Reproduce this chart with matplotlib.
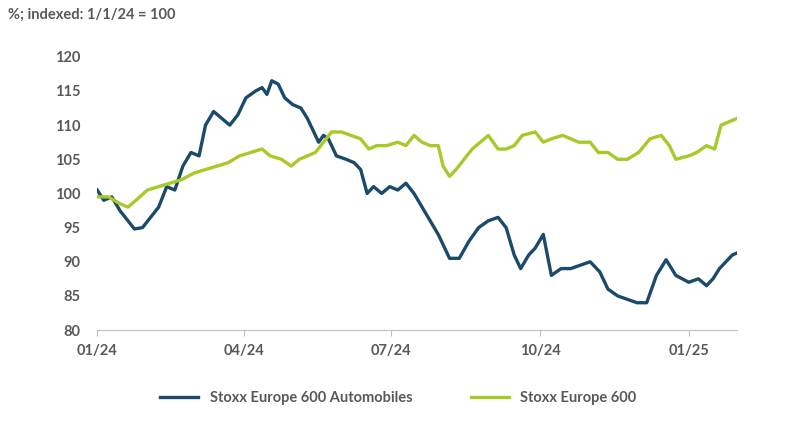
import matplotlib
matplotlib.use("Agg")
import matplotlib.pyplot as plt
import matplotlib.dates as mdates
import pandas as pd

auto_dates = ["2024-01-01","2024-01-05","2024-01-10","2024-01-15","2024-01-20","2024-01-24","2024-01-29","2024-02-03","2024-02-08","2024-02-13","2024-02-18","2024-02-23","2024-02-28","2024-03-04","2024-03-08","2024-03-13","2024-03-18","2024-03-23","2024-03-28","2024-04-02","2024-04-08","2024-04-12","2024-04-15","2024-04-18","2024-04-22","2024-04-26","2024-05-01","2024-05-06","2024-05-10","2024-05-14","2024-05-17","2024-05-20","2024-05-23","2024-05-28","2024-06-03","2024-06-08","2024-06-12","2024-06-16","2024-06-20","2024-06-25","2024-06-30","2024-07-05","2024-07-10","2024-07-15","2024-07-20","2024-07-25","2024-07-30","2024-08-03","2024-08-06","2024-08-12","2024-08-18","2024-08-24","2024-08-30","2024-09-05","2024-09-10","2024-09-15","2024-09-19","2024-09-24","2024-09-28","2024-10-03","2024-10-08","2024-10-14","2024-10-20","2024-10-26","2024-11-01","2024-11-07","2024-11-12","2024-11-18","2024-11-24","2024-11-30","2024-12-06","2024-12-12","2024-12-18","2024-12-24","2025-01-01","2025-01-07","2025-01-12","2025-01-16","2025-01-20","2025-01-24","2025-01-28","2025-01-31"]
auto_vals = [100.5,99,99.5,97.5,96,94.8,95,96.5,98,101,100.5,104,106,105.5,110,112,111,110,111.5,114,115,115.5,114.5,116.5,116,114,113,112.5,111,109,107.5,108.5,108,105.5,105,104.5,103.5,100,101,100,101,100.5,101.5,100,98,96,94,92,90.5,90.5,93,95,96,96.5,95,91,89,91,92,94,88,89,89,89.5,90,88.5,86,85,84.5,84,84,88,90.3,88,87,87.5,86.5,87.5,89,90,91,91.3]

stoxx_dates = ["2024-01-01","2024-01-08","2024-01-15","2024-01-20","2024-01-25","2024-02-01","2024-02-08","2024-02-15","2024-02-22","2024-03-01","2024-03-08","2024-03-15","2024-03-22","2024-03-29","2024-04-05","2024-04-12","2024-04-17","2024-04-24","2024-04-30","2024-05-05","2024-05-10","2024-05-15","2024-05-20","2024-05-25","2024-05-31","2024-06-06","2024-06-12","2024-06-17","2024-06-22","2024-06-28","2024-07-05","2024-07-10","2024-07-15","2024-07-20","2024-07-25","2024-07-30","2024-08-02","2024-08-06","2024-08-10","2024-08-15","2024-08-20","2024-08-25","2024-08-30","2024-09-05","2024-09-10","2024-09-15","2024-09-20","2024-09-28","2024-10-03","2024-10-08","2024-10-15","2024-10-20","2024-10-25","2024-11-01","2024-11-06","2024-11-12","2024-11-18","2024-11-24","2024-12-01","2024-12-08","2024-12-15","2024-12-20","2024-12-24","2025-01-01","2025-01-06","2025-01-12","2025-01-17","2025-01-21","2025-01-31"]
stoxx_vals = [99.5,99.5,98.5,98,99,100.5,101,101.5,102,103,103.5,104,104.5,105.5,106,106.5,105.5,105,104,105,105.5,106,107.5,109,109,108.5,108,106.5,107,107,107.5,107,108.5,107.5,107,107,104,102.5,103.5,105,106.5,107.5,108.5,106.5,106.5,107,108.5,109,107.5,108,108.5,108,107.5,107.5,106,106,105,105,106,108,108.5,107,105,105.5,106,107,106.5,110,111]

series_names = ["Stoxx Europe 600 Automobiles", "Stoxx Europe 600"]
xtick_dates = ["2024-01-01","2024-04-01","2024-07-01","2024-10-01","2025-01-01"]
yticks = [80,85,90,95,100,105,110,115,120]

plt.rcParams['font.family'] = ['Lato', 'DejaVu Sans']
txt = "#595959"
fig = plt.figure(figsize=(7.97, 4.21), dpi=100)
ax = fig.add_axes([0.122, 0.216, 0.803, 0.649])
ax.plot(pd.to_datetime(auto_dates), auto_vals, color="#1b4a6b", lw=2.4, label=series_names[0])
ax.plot(pd.to_datetime(stoxx_dates), stoxx_vals, color="#a8c92a", lw=2.4, label=series_names[1])
ax.set_ylim(80, 120)
ax.set_yticks(yticks)
ax.set_xlim(pd.Timestamp("2024-01-01"), pd.Timestamp("2025-01-31"))
ax.set_xticks(pd.to_datetime(xtick_dates))
ax.xaxis.set_major_formatter(mdates.DateFormatter("%m/%y"))
for s in ["top", "right", "left"]:
    ax.spines[s].set_visible(False)
ax.spines["bottom"].set_color("#bfbfbf")
ax.tick_params(axis="y", length=0, pad=12, labelsize=10.5, labelcolor=txt)
ax.tick_params(axis="x", length=4, color="#bfbfbf", pad=6, labelsize=10.5, labelcolor=txt)
for l in ax.get_xticklabels() + ax.get_yticklabels():
    l.set_fontweight("bold")
fig.text(0.01, 0.965, "%; indexed: 1/1/24 = 100", fontsize=10.5, color=txt, fontweight="bold", va="center")
leg = fig.legend(loc="center", bbox_to_anchor=(0.5, 0.055), ncol=2, frameon=False,
                 handlelength=2.6, columnspacing=4, fontsize=10.5)
for t in leg.get_texts():
    t.set_color(txt); t.set_fontweight("bold")
fig.savefig("out.png", dpi=100)
